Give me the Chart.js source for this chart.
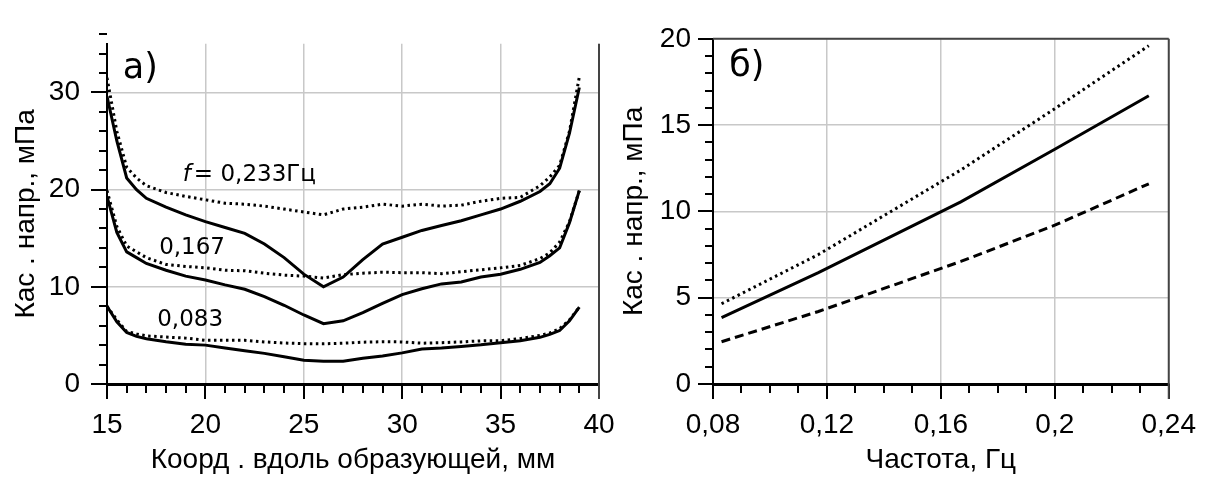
<!DOCTYPE html>
<html>
<head>
<meta charset="utf-8">
<script src="https://cdn.jsdelivr.net/npm/chart.js@4.4.0/dist/chart.umd.min.js"></script>
<style>
  html, body { margin: 0; padding: 0; background: #fff; overflow: hidden; }
  #wrap { position: relative; width: 1220px; height: 477px; }
  canvas { position: absolute; top: 0; }
  #left { left: 0; }
  #right { left: 600px; }
</style>
</head>
<body>
<div id="wrap">
  <canvas id="left" width="640" height="477"></canvas>
  <canvas id="right" width="620" height="477"></canvas>
</div>
<script>
/* ===== data: a) stress along the generatrix ===== */
const coordMm = [15, 15.5, 16, 16.5, 17, 18, 19, 20, 21, 22, 23, 24, 25, 26, 27, 28, 29, 30, 31, 32, 33, 34, 35, 36, 37, 37.5, 38, 38.5, 39];

const solid233  = [29.6, 25.0, 21.2, 20.0, 19.1, 18.2, 17.4, 16.7, 16.1, 15.5, 14.4, 13.0, 11.3, 10.0, 11.0, 12.8, 14.4, 15.1, 15.8, 16.3, 16.8, 17.4, 18.0, 18.8, 19.8, 20.6, 22.2, 25.8, 30.5];
const dotted233 = [31.5, 26.0, 22.3, 21.2, 20.4, 19.7, 19.3, 18.95, 18.6, 18.5, 18.3, 18.0, 17.7, 17.4, 18.0, 18.2, 18.5, 18.3, 18.5, 18.3, 18.4, 18.8, 19.1, 19.2, 20.4, 21.3, 22.5, 26.0, 31.6];
const solid167  = [19.3, 15.6, 13.6, 13.0, 12.4, 11.7, 11.1, 10.7, 10.2, 9.75, 9.0, 8.1, 7.1, 6.2, 6.5, 7.35, 8.3, 9.2, 9.8, 10.3, 10.5, 11.0, 11.3, 11.8, 12.5, 13.2, 14.0, 16.6, 19.9];
const dotted167 = [19.9, 16.2, 14.2, 13.6, 13.0, 12.3, 12.1, 11.95, 11.7, 11.65, 11.4, 11.2, 11.1, 10.9, 11.25, 11.4, 11.5, 11.45, 11.45, 11.35, 11.55, 11.75, 11.95, 12.2, 12.9, 13.5, 14.6, 16.7, 19.9];
const solid083  = [8.0, 6.4, 5.3, 4.9, 4.65, 4.35, 4.1, 4.0, 3.7, 3.42, 3.15, 2.8, 2.45, 2.35, 2.35, 2.65, 2.88, 3.2, 3.6, 3.71, 3.87, 4.03, 4.25, 4.45, 4.8, 5.1, 5.5, 6.5, 7.9];
const dotted083 = [8.0, 6.6, 5.4, 5.15, 4.95, 4.83, 4.72, 4.5, 4.5, 4.5, 4.33, 4.22, 4.15, 4.13, 4.2, 4.3, 4.35, 4.33, 4.2, 4.25, 4.33, 4.44, 4.45, 4.67, 5.0, 5.25, 5.7, 6.6, 7.9];

/* ===== data: б) stress vs frequency ===== */
const freqHz    = [0.083, 0.117, 0.167, 0.2, 0.233];
const freqSolid = [3.85, 6.45, 10.55, 13.6, 16.7];
const freqDot   = [4.65, 7.5, 12.4, 15.95, 19.6];
const freqDash  = [2.45, 4.2, 7.1, 9.2, 11.6];

const SANS = 'Liberation Sans';
const LABEL_FONT = 'DejaVu Sans';
const GRID = '#c8c8c8';

function pairs(xs, ys) {
  return xs.map((x, i) => ({ x: x, y: ys[i] }));
}

function line(ctx, x1, y1, x2, y2) {
  ctx.beginPath();
  ctx.moveTo(x1, y1);
  ctx.lineTo(x2, y2);
  ctx.stroke();
}

// minor / major tick marks, frame lines and the text notes on the plot
const decor = {
  id: 'decor',
  afterDraw(chart, args, o) {
    const { ctx, chartArea: a } = chart;
    const xs = chart.scales.x, ys = chart.scales.y;
    ctx.save();
    ctx.strokeStyle = '#000';
    ctx.lineWidth = 2;

    let n = Math.round((xs.max - xs.min) / o.xMinor);
    for (let i = 0; i <= n; i++) {
      const v = xs.min + i * o.xMinor;
      const major = Math.abs(v / o.xMajor - Math.round(v / o.xMajor)) < 1e-6;
      const px = Math.round(xs.getPixelForValue(v));
      line(ctx, px, a.bottom, px, a.bottom + (major ? o.xMajorLen : o.xMinorLen));
    }
    n = Math.round((ys.max - ys.min) / o.yMinor);
    for (let i = 0; i <= n; i++) {
      const v = ys.min + i * o.yMinor;
      const major = Math.abs(v / o.yMajor - Math.round(v / o.yMajor)) < 1e-6;
      const py = Math.round(ys.getPixelForValue(v));
      line(ctx, a.left, py, a.left - (major ? o.yMajorLen : o.yMinorLen), py);
    }

    ctx.strokeStyle = '#444';
    ctx.lineWidth = 2;
    line(ctx, a.right, a.top, a.right, a.bottom + o.xMajorLen);
    if (o.box) line(ctx, a.left, a.top, a.right, a.top);

    ctx.fillStyle = '#000';
    ctx.textBaseline = 'alphabetic';
    ctx.textAlign = 'left';
    o.notes.forEach(t => {
      let px = xs.getPixelForValue(t.x);
      const py = ys.getPixelForValue(t.y);
      if (t.pre) {
        ctx.font = 'italic ' + t.size + 'px "' + LABEL_FONT + '"';
        ctx.fillText(t.pre, px, py);
        px += ctx.measureText(t.pre).width + 3;
      }
      ctx.font = t.size + 'px "' + LABEL_FONT + '"';
      ctx.fillText(t.text, px, py);
    });
    ctx.restore();
  }
};

function axis(opts) {
  return {
    type: 'linear',
    min: opts.min,
    max: opts.max,
    ticks: {
      stepSize: opts.step,
      includeBounds: false,
      color: '#000',
      padding: opts.pad,
      font: { family: SANS, size: 28 },
      callback: opts.fmt || (v => String(v))
    },
    grid: { color: GRID, lineWidth: 1.5, drawTicks: false },
    border: { color: '#000', width: opts.bw },
    title: {
      display: true,
      text: opts.title,
      color: '#000',
      font: { family: SANS, size: 28 },
      padding: { top: opts.tpad, bottom: 0 }
    },
    afterFit: opts.fit
  };
}

const leftData = [
  { data: pairs(coordMm, dotted233), dash: [2.5, 3.5] },
  { data: pairs(coordMm, solid233),  dash: [] },
  { data: pairs(coordMm, dotted167), dash: [2.5, 3.5] },
  { data: pairs(coordMm, solid167),  dash: [] },
  { data: pairs(coordMm, dotted083), dash: [2.5, 3.5] },
  { data: pairs(coordMm, solid083),  dash: [] }
].map(d => ({
  data: d.data,
  borderColor: '#000',
  borderWidth: 3,
  borderDash: d.dash,
  pointRadius: 0,
  tension: 0
}));

new Chart(document.getElementById('left'), {
  type: 'line',
  data: { datasets: leftData },
  options: {
    responsive: false,
    animation: false,
    layout: { padding: { left: 0, right: 41, top: 16, bottom: 0 } },
    plugins: {
      legend: { display: false },
      tooltip: { enabled: false },
      decor: {
        xMinor: 1, xMajor: 5, xMinorLen: 9, xMajorLen: 15,
        yMinor: 2, yMajor: 10, yMinorLen: 8, yMajorLen: 16,
        box: false,
        notes: [
          { text: 'а)', x: 15.8, y: 31.5, size: 35 },
          { text: '= 0,233Гц', pre: 'f', x: 18.85, y: 20.85, size: 23 },
          { text: '0,167', x: 17.65, y: 13.4, size: 23 },
          { text: '0,083', x: 17.55, y: 5.93, size: 23 }
        ]
      }
    },
    scales: {
      x: axis({ min: 15, max: 40, step: 5, pad: 24, bw: 3, tpad: 0,
                title: 'Коорд . вдоль образующей, мм', fit: s => { s.height = 93; } }),
      y: axis({ min: 0, max: 35, step: 10, pad: 27, bw: 2, tpad: 9,
                title: 'Кас . напр., мПа', fit: s => { s.width = 107; } })
    }
  },
  plugins: [decor]
});

const rightData = [
  { data: pairs(freqHz, freqDot),   dash: [2.5, 3.5] },
  { data: pairs(freqHz, freqSolid), dash: [] },
  { data: pairs(freqHz, freqDash),  dash: [9, 5] }
].map(d => ({
  data: d.data,
  borderColor: '#000',
  borderWidth: 3,
  borderDash: d.dash,
  pointRadius: 0,
  tension: 0
}));

new Chart(document.getElementById('right'), {
  type: 'line',
  data: { datasets: rightData },
  options: {
    responsive: false,
    animation: false,
    layout: { padding: { left: 0, right: 26, top: 32, bottom: 0 } },
    plugins: {
      legend: { display: false },
      tooltip: { enabled: false },
      decor: {
        xMinor: 0.01, xMajor: 0.04, xMinorLen: 9, xMajorLen: 15,
        yMinor: 1, yMajor: 5, yMinorLen: 8, yMajorLen: 15,
        box: true,
        notes: [
          { text: 'б)', x: 0.0857, y: 17.84, size: 35 }
        ]
      }
    },
    scales: {
      x: axis({ min: 0.08, max: 0.24, step: 0.04, pad: 24, bw: 3, tpad: 0,
                title: 'Частота, Гц', fit: s => { s.height = 93; },
                fmt: v => String(+v.toFixed(2)).replace('.', ',') }),
      y: axis({ min: 0, max: 20, step: 5, pad: 22, bw: 2, tpad: 17,
                title: 'Кас . напр., мПа', fit: s => { s.width = 113; } })
    }
  },
  plugins: [decor]
});
</script>
</body>
</html>
